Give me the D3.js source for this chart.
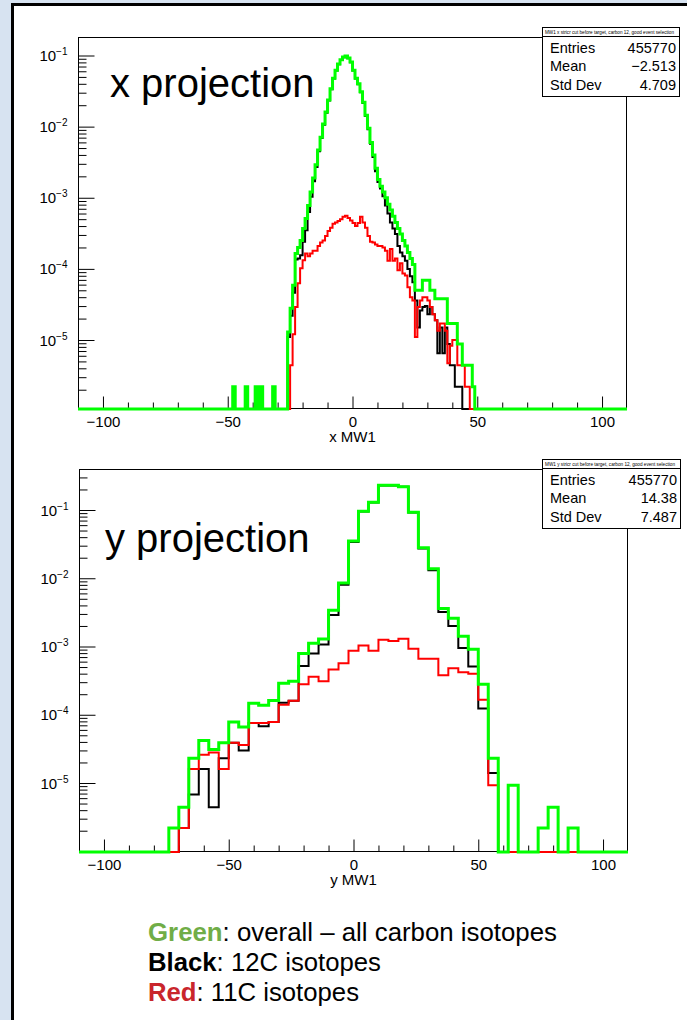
<!DOCTYPE html>
<html><head><meta charset="utf-8">
<script src="https://cdn.jsdelivr.net/npm/d3@7"></script>
<style>html,body{margin:0;padding:0;background:#fff;} svg{display:block;}</style>
</head><body>
<svg id="c" width="687" height="1020"></svg>
<script>
// ---------------- DATA ----------------
// x projection: bin width 1 (mm), axis -110..110; arrays list bins starting at given left edge
const xAxisRange = [-110, 110];
const xBinWidth = 1;
const xGreenStart = -48;
const xGreen = [
  2.2e-6,0,0,0,0,2.2e-6,0,0,0,2.2e-6,0,2.2e-6,0,0,0,0,2.2e-6,0,0,0,0,0,
  1.3e-5,2.8e-5,5.9e-5,1.65e-4,2.0e-4,2.5e-4,3.7e-4,5.1e-4,7.8e-4,1.2e-3,1.9e-3,2.9e-3,4.7e-3,7.1e-3,
  1.09e-2,1.6e-2,2.36e-2,3.4e-2,4.8e-2,6.2e-2,7.6e-2,8.7e-2,9.5e-2,9.8e-2,9.2e-2,8.1e-2,
  6.2e-2,4.8e-2,4.0e-2,3.1e-2,2.2e-2,1.45e-2,9.5e-3,6.0e-3,4.0e-3,2.6e-3,
  1.8e-3,1.45e-3,1.2e-3,1.0e-3,8.1e-4,6.7e-4,5.5e-4,4.5e-4,3.7e-4,3.1e-4,
  2.5e-4,2.1e-4,1.7e-4,1.4e-4,1.15e-4,5.0e-5,5.0e-5,5.0e-5,6.9e-5,6.9e-5,
  6.9e-5,5.0e-5,5.0e-5,3.8e-5,3.8e-5,3.8e-5,3.8e-5,3.8e-5,1.7e-5,1.7e-5,
  1.7e-5,1.7e-5,8.8e-6,8.8e-6,4.4e-6,4.4e-6,4.4e-6,4.4e-6,2.2e-6,0
];
const xBlackStart = -26;
const xBlack = [
  1.1e-5,2.2e-5,4.6e-5,1.35e-4,1.4e-4,1.55e-4,2.4e-4,3.5e-4,6.3e-4,1.03e-3,1.7e-3,2.7e-3,4.5e-3,6.9e-3,
  1.06e-2,1.57e-2,2.33e-2,3.36e-2,4.75e-2,6.15e-2,7.55e-2,8.65e-2,9.45e-2,9.75e-2,9.15e-2,8.05e-2,
  6.15e-2,4.75e-2,3.95e-2,3.05e-2,2.15e-2,1.41e-2,9.2e-3,5.75e-3,3.75e-3,2.35e-3,
  1.66e-3,1.35e-3,1.05e-3,7.8e-4,6.0e-4,4.5e-4,3.7e-4,3.1e-4,2.1e-4,1.7e-4,
  1.5e-4,1.3e-4,1.0e-4,7.9e-5,6.5e-5,3.6e-5,1.5e-5,2.6e-5,2.9e-5,3.0e-5,
  2.3e-5,2.9e-5,2.3e-5,1.9e-5,6.5e-6,1.5e-5,6.5e-6,1.5e-5,8.8e-6,4.4e-6,
  4.4e-6,2.2e-6,2.2e-6,2.2e-6,0
];
const xRedStart = -25;
const xRed = [
  4.4e-6,1.2e-5,2.9e-5,6.3e-5,1.02e-4,1.32e-4,1.65e-4,1.5e-4,1.65e-4,1.8e-4,1.8e-4,2.1e-4,2.35e-4,
  2.5e-4,2.9e-4,3.4e-4,3.8e-4,4.3e-4,4.5e-4,4.7e-4,5.0e-4,5.4e-4,5.6e-4,5.2e-4,4.8e-4,
  4.4e-4,4.0e-4,4.4e-4,5.4e-4,4.5e-4,3.8e-4,2.9e-4,2.4e-4,2.35e-4,2.2e-4,
  2.1e-4,2.1e-4,2.0e-4,1.8e-4,1.3e-4,1.9e-4,1.3e-4,1.4e-4,9.6e-5,1.2e-4,
  8.6e-5,8.1e-5,5.5e-5,4.0e-5,3.6e-5,1.1e-5,2.9e-5,3.6e-5,4.0e-5,4.0e-5,
  3.6e-5,2.9e-5,2.3e-5,1.9e-5,1.35e-5,1.7e-5,1.7e-5,1.35e-5,4.7e-6,8.3e-6,
  1.0e-5,1.0e-5,4.4e-6,4.4e-6,4.4e-6,2.2e-6,2.2e-6,0
];

// y projection: bin width 4, axis -110..110
const yAxisRange = [-110, 110];
const yBinWidth = 4;
const yGreenStart = -74;
const yGreen = [
  2.2e-6,4.4e-6,2.3e-5,4.2e-5,3.1e-5,3.9e-5,7.8e-5,6.6e-5,1.48e-4,1.38e-4,1.62e-4,
  2.9e-4,3.1e-4,7.9e-4,1.12e-3,1.29e-3,3.4e-3,8.5e-3,3.5e-2,9.6e-2,0.13,
  0.23,0.23,0.22,9.3e-2,2.8e-2,1.38e-2,3.6e-3,2.6e-3,1.41e-3,9.1e-4,
  2.8e-4,2.3e-5,0,9.3e-6,0,0,2.2e-6,4.4e-6,0,2.2e-6
];
const yBlackStart = -74;
const yBlack = [
  0,2.2e-6,6.8e-6,1.6e-5,4.4e-6,2.3e-5,3.9e-5,3.0e-5,7.6e-5,6.8e-5,7.8e-5,
  1.5e-4,1.6e-4,5.2e-4,7.9e-4,1.07e-3,2.9e-3,8.0e-3,3.4e-2,9.5e-2,0.129,
  0.229,0.229,0.219,9.2e-2,2.73e-2,1.31e-2,3.2e-3,2.0e-3,9.5e-4,5.1e-4,
  1.23e-4,1.4e-5,0
];
const yRedStart = -74;
const yRed = [
  0,2.2e-6,1.6e-5,2.6e-5,2.8e-5,1.6e-5,3.9e-5,3.6e-5,7.6e-5,7.6e-5,7.8e-5,
  1.4e-4,1.6e-4,2.8e-4,3.6e-4,3.1e-4,4.6e-4,5.7e-4,8.7e-4,1.03e-3,8.7e-4,
  1.26e-3,1.2e-3,1.3e-3,9.3e-4,6.6e-4,6.6e-4,3.8e-4,4.8e-4,4.2e-4,4.0e-4,
  1.66e-4,9.3e-6,0
];

const xTickMajor = [-100, -50, 0, 50, 100];
const logTickMajor = [1e-1, 1e-2, 1e-3, 1e-4, 1e-5];
const logTickExp = ["−1", "−2", "−3", "−4", "−5"];

const statsLabels = ["Entries", "Mean", "Std Dev"];
const statsX = ["455770", "−2.513", "4.709"];
const statsY = ["455770", "14.38", "7.487"];
const titleX = "MW1 x  stricr cut before target, carbon 12, good event selection";
const titleY = "MW1 y  stricr cut before target, carbon 12, good event selection";

// ---------------- DRAWING ----------------
const svg = d3.select("#c");
const FONT = "'Liberation Sans', Arial, Helvetica, sans-serif";

// page background / slide border
svg.append("rect").attr("x",0).attr("y",0).attr("width",687).attr("height",1020).attr("fill","#d7e3f1");
svg.append("rect").attr("x",12).attr("y",4).attr("width",675).attr("height",1016).attr("fill","#fff");
svg.append("line").attr("x1",12.5).attr("x2",12.5).attr("y1",3).attr("y2",1020).attr("stroke","#000").attr("stroke-width",3);
svg.append("line").attr("x1",11).attr("x2",687).attr("y1",4.5).attr("y2",4.5).attr("stroke","#000").attr("stroke-width",3);

function fullBins(start, vals, width, range) {
  const n = Math.round((range[1]-range[0])/width);
  const out = [];
  for (let i = 0; i < n; i++) {
    const lo = range[0] + i*width;
    const k = Math.round((lo - start)/width);
    const v = (k >= 0 && k < vals.length) ? vals[k] : 0;
    out.push({lo: lo, hi: lo+width, v: v});
  }
  return out;
}

function panel(cfg) {
  const g = svg.append("g");
  const x = d3.scaleLinear().domain(cfg.xRange).range([cfg.fx0, cfg.fx1]);
  // log scale anchored on decade tick positions, then extended to the frame
  const yA = d3.scaleLog().domain([1e-5, 1e-1]).range([cfg.y5, cfg.y1]);
  const y = d3.scaleLog().domain([yA.invert(cfg.fy1), yA.invert(cfg.fy0)]).range([cfg.fy1, cfg.fy0]);
  const ymin = y.domain()[0];

  // frame
  g.append("rect").attr("x",cfg.fx0+0.5).attr("y",cfg.fy0+0.5)
    .attr("width",cfg.fx1-cfg.fx0-1).attr("height",cfg.fy1-cfg.fy0-1)
    .attr("fill","none").attr("stroke","#000").attr("stroke-width",1);

  // y axis (log) – ticks inside the frame
  const minor = [];
  for (let e = -7; e <= 0; e++) for (let m = 2; m <= 9; m++) {
    const v = m*Math.pow(10,e);
    if (v > y.domain()[0] && v < y.domain()[1]) minor.push(v);
  }
  const yAxisMinor = d3.axisLeft(y).tickValues(minor).tickSizeInner(-8).tickSizeOuter(0).tickFormat("");
  const gym = g.append("g").attr("transform",`translate(${cfg.fx0+0.5},0)`).call(yAxisMinor);
  const yAxisMajor = d3.axisLeft(y).tickValues(logTickMajor).tickSizeInner(-16).tickSizeOuter(0).tickPadding(11).tickFormat("");
  const gyM = g.append("g").attr("transform",`translate(${cfg.fx0+0.5},0)`).call(yAxisMajor);
  [gym, gyM].forEach(a => { a.select(".domain").remove(); a.selectAll("line").attr("stroke","#000"); });
  gyM.selectAll(".tick").each(function(d, i) {
    const t = d3.select(this).append("text")
      .attr("x", -11).attr("y", 5).attr("text-anchor","end")
      .attr("font-family", FONT).attr("font-size", 15).attr("fill","#000");
    t.append("tspan").text("10");
    t.append("tspan").attr("dy", -6).attr("font-size", 10).text(logTickExp[i]);
  });

  // x axis – ticks inside the frame
  const xMinor = d3.range(cfg.xRange[0]+10, cfg.xRange[1], 10).filter(v => v % 50 !== 0);
  const gxm = g.append("g").attr("transform",`translate(0,${cfg.fy1-0.5})`)
    .call(d3.axisBottom(x).tickValues(xMinor).tickSizeInner(-6).tickSizeOuter(0).tickFormat(""));
  const gxM = g.append("g").attr("transform",`translate(0,${cfg.fy1-0.5})`)
    .call(d3.axisBottom(x).tickValues(xTickMajor).tickSizeInner(-12).tickSizeOuter(0).tickPadding(5));
  [gxm, gxM].forEach(a => { a.select(".domain").remove(); a.selectAll("line").attr("stroke","#000"); });
  gxM.selectAll("text").attr("font-family", FONT).attr("font-size", 15).attr("fill","#000").attr("dy","0.9em");
  g.append("text").attr("x", (cfg.fx0+cfg.fx1)/2).attr("y", cfg.fy1+33)
    .attr("text-anchor","middle").attr("font-family",FONT).attr("font-size",15).text(cfg.xTitle);

  // histograms (step lines)
  const line = d3.line().x(d => d[0]).y(d => d[1]);
  cfg.series.forEach(s => {
    const bins = fullBins(s.start, s.vals, cfg.binWidth, cfg.xRange);
    const pts = [];
    bins.forEach(b => {
      const yy = (b.v > ymin) ? y(b.v) : cfg.fy1;
      pts.push([x(b.lo), yy], [x(b.hi), yy]);
    });
    g.append("path").attr("d", line(pts)).attr("fill","none")
      .attr("stroke", s.color).attr("stroke-width", s.w).attr("stroke-linejoin","miter");
  });

  // big label
  g.append("text").attr("x", cfg.lx).attr("y", cfg.ly).attr("font-family",FONT)
    .attr("font-size", 40).attr("fill","#000").text(cfg.label);

  // stats box
  const sb = cfg.stats;
  g.append("rect").attr("x",sb.x0+0.5).attr("y",sb.yt+0.5).attr("width",sb.x1-sb.x0).attr("height",sb.y0-sb.yt)
    .attr("fill","#fff").attr("stroke","#000");
  g.append("text").attr("x",sb.x0+3).attr("y",sb.yt+7).attr("font-family",FONT).attr("font-size",5)
    .attr("textLength", sb.x1-sb.x0-8).attr("lengthAdjust","spacingAndGlyphs").text(sb.title);
  g.append("rect").attr("x",sb.x0+0.5).attr("y",sb.y0+0.5).attr("width",sb.x1-sb.x0).attr("height",sb.y1-sb.y0)
    .attr("fill","#fff").attr("stroke","#000");
  statsLabels.forEach((lab, i) => {
    const yy = sb.y0 + 16.5 + i*18.7;
    g.append("text").attr("x", sb.x0+8).attr("y", yy).attr("font-family",FONT).attr("font-size",14.5).text(lab);
    g.append("text").attr("x", sb.x1-3).attr("y", yy).attr("text-anchor","end").attr("font-family",FONT).attr("font-size",14.5).text(sb.vals[i]);
  });
}

panel({
  xRange: xAxisRange, binWidth: xBinWidth,
  fx0: 78, fx1: 627, fy0: 37, fy1: 409, y1: 55.5, y5: 340,
  xTitle: "x MW1", label: "x projection", lx: 110, ly: 97,
  series: [
    {start: xBlackStart, vals: xBlack, color: "#000000", w: 2},
    {start: xRedStart, vals: xRed, color: "#ff0000", w: 2},
    {start: xGreenStart, vals: xGreen, color: "#00ff00", w: 3}
  ],
  stats: {x0: 542, x1: 679, yt: 27, y0: 36, y1: 96, title: titleX, vals: statsX}
});

panel({
  xRange: yAxisRange, binWidth: yBinWidth,
  fx0: 79, fx1: 628, fy0: 469, fy1: 852, y1: 510, y5: 783,
  xTitle: "y MW1", label: "y projection", lx: 105, ly: 552,
  series: [
    {start: yBlackStart, vals: yBlack, color: "#000000", w: 2},
    {start: yRedStart, vals: yRed, color: "#ff0000", w: 2},
    {start: yGreenStart, vals: yGreen, color: "#00ff00", w: 3}
  ],
  stats: {x0: 542, x1: 680, yt: 459, y0: 468, y1: 528, title: titleY, vals: statsY}
});

// legend text
const legendLines = [
  {key: "Green", color: "#70ad47", rest: ": overall – all carbon isotopes", w: 409},
  {key: "Black", color: "#000000", rest: ": 12C isotopes", w: 233},
  {key: "Red", color: "#c9252c", rest: ": 11C isotopes", w: 211}
];
legendLines.forEach((L, i) => {
  const t = svg.append("text").attr("x", 148).attr("y", 941 + i*30)
    .attr("font-family", FONT).attr("font-size", 25)
    .attr("textLength", L.w).attr("lengthAdjust", "spacingAndGlyphs");
  t.append("tspan").attr("font-weight","bold").attr("fill", L.color).text(L.key);
  t.append("tspan").attr("fill","#000").text(L.rest);
});
</script>
</body></html>
